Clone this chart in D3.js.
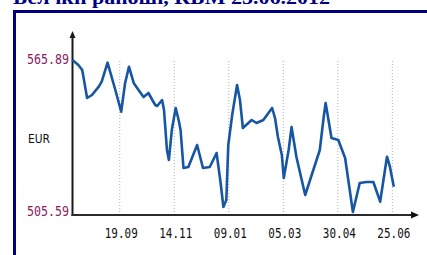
<!DOCTYPE html>
<html>
<head>
<meta charset="utf-8">
<script src="https://cdn.jsdelivr.net/npm/d3@7"></script>
<style>
  body { margin: 0; background: #fff; }
  svg { display: block; }
</style>
</head>
<body>
<svg class="chart" width="427" height="255"></svg>
<script>
// rates, EUR
let dates = [
  '2011-08-02','2011-08-08','2011-08-12','2011-08-17','2011-08-22','2011-08-29','2011-09-01','2011-09-07',
  '2011-09-15','2011-09-21','2011-09-25','2011-09-29','2011-10-04','2011-10-11','2011-10-14','2011-10-19',
  '2011-10-23','2011-10-26','2011-10-28','2011-11-02','2011-11-04','2011-11-07','2011-11-09','2011-11-12',
  '2011-11-16','2011-11-19','2011-11-21','2011-11-24','2011-11-29','2011-12-08','2011-12-14','2011-12-21',
  '2011-12-28','2012-01-01','2012-01-04','2012-01-07','2012-01-09','2012-01-13','2012-01-18','2012-01-21',
  '2012-01-24','2012-02-02','2012-02-07','2012-02-14','2012-02-23','2012-02-26','2012-02-29','2012-03-04',
  '2012-03-06','2012-03-11','2012-03-14','2012-03-19','2012-03-28','2012-04-12','2012-04-16','2012-04-18',
  '2012-04-24','2012-05-01','2012-05-08','2012-05-16','2012-05-23','2012-05-30','2012-06-06','2012-06-13',
  '2012-06-20','2012-06-23','2012-06-27'
];
let values = [
  565.89, 563.91, 561.92, 550.82, 552.01, 555.30, 557.28, 564.82,
  553.99, 545.38, 556.65, 563.23, 556.65, 552.80, 551.21, 552.80,
  550.02, 548.04, 547.64, 550.02, 546.06, 530.19, 526.22, 538.12,
  546.85, 542.09, 538.12, 523.05, 523.44, 532.17, 523.05, 523.44,
  529.00, 517.49, 507.57, 510.35, 532.17, 544.07, 555.97, 550.02,
  538.91, 542.09, 540.90, 542.09, 546.85, 542.88, 535.34, 528.20,
  519.08, 530.19, 539.31, 527.41, 512.33, 530.19, 543.28, 548.83,
  534.95, 534.15, 527.01, 505.59, 517.09, 517.49, 517.49, 509.68,
  527.53, 523.56, 515.63
];
let tickDates = ['2011-09-19','2011-11-14','2012-01-09','2012-03-05','2012-04-30','2012-06-25'];
let yLabels = [565.89, 505.59];
let unitLabel = 'EUR';
let titleText = 'Бел ікп раñоші, КБМ 25.06.2012';

let parseDate = d3.timeParse('%Y-%m-%d');
let series = dates.map((d, i) => ({date: parseDate(d), value: values[i]}));

let svg = d3.select('svg.chart');

let x = d3.scaleTime()
  .domain([parseDate('2011-08-02'), parseDate('2012-06-27')])
  .range([72.5, 393.8]);
let y = d3.scaleLinear()
  .domain(d3.extent(yLabels))
  .range([212, 60]);

let axisY = 215;

// frame and cropped title
svg.append('text')
  .attr('x', 13)
  .attr('y', 3.7)
  .attr('textLength', 317)
  .attr('lengthAdjust', 'spacingAndGlyphs')
  .style('font-family', '"Liberation Serif", serif')
  .style('font-weight', 'bold')
  .style('font-size', '18px')
  .style('fill', '#000080')
  .text(titleText);

svg.append('rect').attr('x', 13).attr('y', 10).attr('width', 414).attr('height', 3).style('fill', '#000080');
svg.append('rect').attr('x', 13).attr('y', 10).attr('width', 3).attr('height', 245).style('fill', '#000080');

// dotted grid + date labels
let xAxis = d3.axisBottom(x)
  .tickValues(tickDates.map(parseDate))
  .tickSize(-(axisY - 59))
  .tickPadding(0)
  .tickFormat(d3.timeFormat('%d.%m'));

let gx = svg.append('g')
  .attr('transform', `translate(0, ${axisY})`)
  .call(xAxis);

gx.select('.domain').remove();
gx.selectAll('.tick line')
  .style('stroke', '#b0b0b0')
  .style('stroke-dasharray', '1,2')
  .attr('y2', -(axisY - 59));
gx.selectAll('.tick text')
  .attr('x', 1.5)
  .attr('y', 18.5)
  .attr('dy', '0.35em')
  .attr('textLength', 33)
  .attr('lengthAdjust', 'spacingAndGlyphs')
  .style('font-family', '"DejaVu Sans Mono", monospace')
  .style('font-size', '13.5px')
  .style('fill', '#111');

// y labels
svg.selectAll('text.ylab')
  .data(yLabels)
  .enter()
  .append('text')
  .attr('class', 'ylab')
  .attr('x', 69)
  .attr('y', d => y(d) - 0.5)
  .attr('dy', '0.35em')
  .attr('text-anchor', 'end')
  .attr('textLength', 42)
  .attr('lengthAdjust', 'spacingAndGlyphs')
  .style('font-family', '"DejaVu Sans Mono", monospace')
  .style('font-size', '13.5px')
  .style('fill', '#8b2060')
  .text(d => d.toFixed(2));

svg.append('text')
  .attr('x', 28)
  .attr('y', 138)
  .attr('dy', '0.35em')
  .attr('textLength', 22)
  .attr('lengthAdjust', 'spacingAndGlyphs')
  .style('font-family', '"DejaVu Sans", sans-serif')
  .style('font-size', '13px')
  .style('fill', '#111')
  .text(unitLabel);

// axes with arrows
svg.append('line')
  .attr('x1', 72.5).attr('x2', 72.5)
  .attr('y1', 34).attr('y2', axisY + 1)
  .style('stroke', '#1a1a1a').style('stroke-width', 2);
svg.append('path')
  .attr('d', 'M72.5,31 L69.5,38 L75.5,38 Z')
  .style('fill', '#1a1a1a');

svg.append('line')
  .attr('x1', 71.5).attr('x2', 414)
  .attr('y1', axisY).attr('y2', axisY)
  .style('stroke', '#2a2a2a').style('stroke-width', 2);
svg.append('path')
  .attr('d', `M419,${axisY} L411,${axisY - 3.5} L411,${axisY + 3.5} Z`)
  .style('fill', '#111');

// rate line
let line = d3.line()
  .x(d => x(d.date))
  .y(d => y(d.value));

svg.append('path')
  .datum(series)
  .attr('d', line)
  .style('fill', 'none')
  .style('stroke', '#1656a3')
  .style('stroke-width', '2.6px')
  .style('stroke-linejoin', 'round');
</script>
</body>
</html>
